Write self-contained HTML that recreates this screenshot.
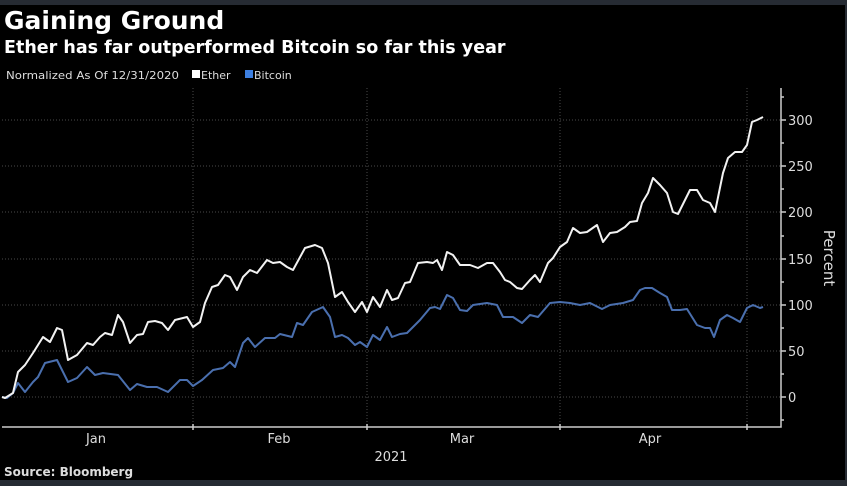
<!DOCTYPE html>
<html><head><meta charset="utf-8"><style>
html,body{margin:0;padding:0;background:#000;}
body{width:847px;height:486px;overflow:hidden;position:relative;font-family:"DejaVu Sans","Liberation Sans",sans-serif;}
</style></head><body>
<svg width="847" height="486" viewBox="0 0 847 486" xmlns="http://www.w3.org/2000/svg" style="position:absolute;left:0;top:0">
<rect width="847" height="486" fill="#000"/>
<rect x="0" y="0" width="847" height="5" fill="#262b33"/>
<rect x="0" y="480" width="847" height="6" fill="#262b33"/>
<rect x="845" y="0" width="2" height="486" fill="#262b33"/>
<text x="4" y="29" font-family="DejaVu Sans" font-weight="bold" font-size="25" fill="#fff">Gaining Ground</text>
<text x="4" y="53" font-family="DejaVu Sans" font-weight="bold" font-size="17.5" fill="#fff">Ether has far outperformed Bitcoin so far this year</text>
<text x="6" y="79" font-family="DejaVu Sans" font-size="11" fill="#ddd" textLength="173" lengthAdjust="spacingAndGlyphs">Normalized As Of 12/31/2020</text>
<rect x="192" y="70" width="8" height="8" fill="#fff"/>
<text x="201" y="79" font-family="DejaVu Sans" font-size="11" fill="#ddd">Ether</text>
<rect x="245" y="70" width="8" height="8" fill="#3d7fe0"/>
<text x="254" y="79" font-family="DejaVu Sans" font-size="11" fill="#ddd">Bitcoin</text>
<g stroke="#4a4a4a" stroke-width="1" stroke-dasharray="1,2">
<line x1="2" y1="120" x2="780" y2="120"/><line x1="2" y1="166" x2="780" y2="166"/>
<line x1="2" y1="212" x2="780" y2="212"/><line x1="2" y1="259" x2="780" y2="259"/>
<line x1="2" y1="305" x2="780" y2="305"/><line x1="2" y1="351" x2="780" y2="351"/>
<line x1="2" y1="397" x2="780" y2="397"/>
<line x1="193" y1="88" x2="193" y2="427"/><line x1="367" y1="88" x2="367" y2="427"/>
<line x1="560" y1="88" x2="560" y2="427"/><line x1="747" y1="88" x2="747" y2="427"/>
</g>
<g stroke="#ccc" stroke-width="1.5" fill="none">
<polyline points="2,427 781,427 781,88"/>
<line x1="781" y1="120" x2="786" y2="120"/><line x1="781" y1="166" x2="786" y2="166"/>
<line x1="781" y1="212" x2="786" y2="212"/><line x1="781" y1="259" x2="786" y2="259"/>
<line x1="781" y1="305" x2="786" y2="305"/><line x1="781" y1="351" x2="786" y2="351"/>
<line x1="781" y1="397" x2="786" y2="397"/>
<line x1="781" y1="97" x2="784" y2="97"/><line x1="781" y1="143" x2="784" y2="143"/>
<line x1="781" y1="189" x2="784" y2="189"/><line x1="781" y1="236" x2="784" y2="236"/>
<line x1="781" y1="282" x2="784" y2="282"/><line x1="781" y1="328" x2="784" y2="328"/>
<line x1="781" y1="374" x2="784" y2="374"/><line x1="781" y1="420" x2="784" y2="420"/>
<line x1="193" y1="424" x2="193" y2="430"/><line x1="367" y1="424" x2="367" y2="430"/>
<line x1="560" y1="424" x2="560" y2="430"/><line x1="747" y1="424" x2="747" y2="430"/>
</g>
<g font-family="DejaVu Sans" font-size="13" fill="#ddd">
<text x="788" y="125">300</text><text x="788" y="171">250</text><text x="788" y="217">200</text>
<text x="788" y="264">150</text><text x="788" y="310">100</text><text x="788" y="356">50</text>
<text x="788" y="402">0</text>
<text x="96" y="443" text-anchor="middle">Jan</text><text x="279" y="443" text-anchor="middle">Feb</text>
<text x="462" y="443" text-anchor="middle">Mar</text><text x="650" y="443" text-anchor="middle">Apr</text>
<text x="391" y="461" text-anchor="middle">2021</text>
<text x="0" y="0" font-size="15" transform="translate(824,258) rotate(90)" text-anchor="middle">Percent</text>
</g>
<text x="4" y="476" font-family="DejaVu Sans" font-weight="bold" font-size="12" fill="#ddd">Source: Bloomberg</text>
<polyline fill="none" stroke="#4a6fae" stroke-width="2" stroke-linejoin="round" points="2,397 7,398 13,393 18,383 25,392 33,382 38,377 45,363 57,360 68,382 77,378 87,367 95,375 103,373 118,375 130,390 137,384 147,387 157,387 168,392 180,380 187,380 193,386 202,380 213,370 223,368 230,362 235,367 243,343 248,338 255,347 265,338 275,338 280,334 292,337 297,323 303,325 312,312 323,307 330,317 335,337 342,335 348,338 355,345 360,342 367,347 373,335 380,340 387,327 392,337 400,334 407,333 420,320 430,308 435,307 440,309 447,295 453,298 460,310 467,311 473,305 487,303 497,305 503,317 513,317 522,323 530,315 538,317 550,303 560,302 570,303 580,305 590,303 602,309 610,305 623,303 633,300 640,290 645,288 652,288 660,293 667,297 672,310 680,310 687,309 697,325 705,328 710,328 714,337 720,320 727,315 733,318 740,322 747,308 753,305 760,308 763,307"/>
<polyline fill="none" stroke="#f2f2f2" stroke-width="2" stroke-linejoin="round" points="2,397 5,398 13,393 18,372 25,365 33,353 43,337 50,342 57,328 62,330 68,360 77,355 87,343 93,345 100,337 105,333 112,335 118,315 123,322 130,343 137,335 143,334 148,322 155,321 162,323 168,330 175,320 187,317 193,327 200,322 205,303 212,287 218,285 225,275 230,277 237,290 243,277 250,270 257,273 267,260 273,263 280,262 287,267 293,270 305,248 315,245 322,248 328,263 335,297 342,292 348,302 355,312 362,302 367,312 373,297 380,307 387,290 392,300 398,298 405,283 410,282 418,263 427,262 433,263 437,260 442,270 447,252 453,255 460,265 470,265 478,268 487,263 493,263 500,272 505,280 510,282 517,288 522,289 530,280 535,275 540,282 548,263 553,258 560,247 567,242 573,228 580,233 587,232 597,225 603,242 610,233 617,232 625,227 630,222 637,221 642,203 648,193 653,178 660,185 667,193 673,212 678,214 690,190 697,190 703,200 710,203 715,212 723,173 728,158 735,152 742,152 747,145 752,122 757,120 763,117"/>
</svg>
</body></html>
